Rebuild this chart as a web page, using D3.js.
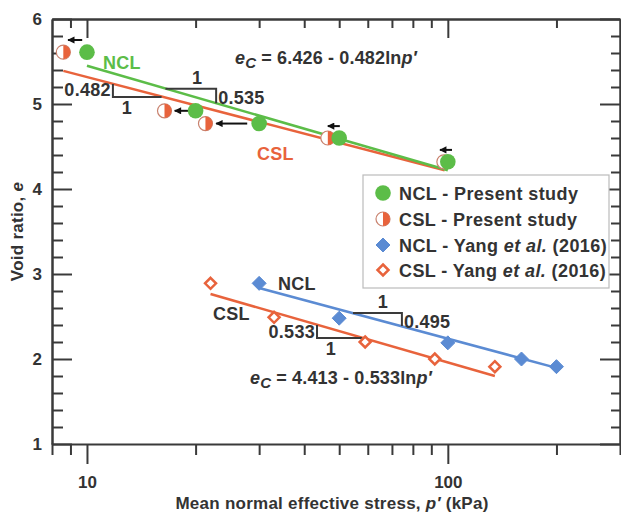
<!DOCTYPE html>
<html>
<head>
<meta charset="utf-8">
<script src="https://cdn.jsdelivr.net/npm/d3@7"></script>
<style>
  body { margin: 0; background: #fff; }
  text { font-family: "Liberation Sans", Arial, Helvetica, sans-serif; font-weight: bold; fill: #333; }
</style>
</head>
<body>
<div id="chart"></div>
<script>
// present study
const nclP = [10, 20, 30, 50, 100]
const nclE = [5.61, 4.92, 4.77, 4.60, 4.32]
const cslP = [8.6, 16.4, 21.3, 46.5, 97.5]
const cslE = [5.61, 4.92, 4.77, 4.60, 4.32]
// Yang et al. (2016)
const yNclP = [30, 50, 100, 160, 200]
const yNclE = [2.89, 2.48, 2.19, 2.00, 1.91]
const yCslP = [22, 33, 59, 92, 135]
const yCslE = [2.89, 2.49, 2.20, 2.00, 1.91]
// fitted lines, end points
const nclFitP = [10, 100], nclFitE = [5.45, 4.22]
const cslFitP = [8.6, 98], cslFitE = [5.39, 4.22]
const yNclFitP = [30, 200], yNclFitE = [2.835, 1.896]
const yCslFitP = [22, 135], yCslFitE = [2.765, 1.80]
// shift arrows (from NCL towards CSL)
const arrowFromP = [9.7, 19.05, 27.8, 50.2, 102.7]
const arrowToP = [8.86, 17.5, 22.8, 46.5, 95.1]
const arrowE = [5.753, 4.92, 4.77, 4.74, 4.46]
// slope triangles
const slopes = [
    { p: [11.8, 16.1], e: [5.236, 5.082], corner: "left", a: "0.482", b: "1" },
    { p: [16.5, 22.8], e: [5.18, 5.01], corner: "right", a: "0.535", b: "1" },
    { p: [54.6, 74.6], e: [2.541, 2.388], corner: "right", a: "0.495", b: "1" },
    { p: [43.4, 57.8], e: [2.40, 2.247], corner: "left", a: "0.533", b: "1" }
]
const xMajor = [10, 100]
const xMinor = [9, 20, 30, 40, 50, 60, 70, 80, 90, 200]
const yMajor = [1, 2, 3, 4, 5, 6]
const yMinor = [1.2, 1.4, 1.6, 1.8, 2.2, 2.4, 2.6, 2.8, 3.2, 3.4, 3.6, 3.8, 4.2, 4.4, 4.6, 4.8, 5.2, 5.4, 5.6, 5.8]
const legendLabels = ["NCL - Present study", "CSL - Present study", "NCL - Yang ", "CSL - Yang "]

const green = "#5cbd48", orange = "#e8633c", blue = "#5b8bd3", axisCol = "#3a3a3a"

const width = 621, height = 516
const svg = d3.select("#chart").append("svg")
    .attr("width", width)
    .attr("height", height)

const x = d3.scaleLog().domain([8, 300]).range([52, 620])
const y = d3.scaleLinear().domain([1, 6]).range([444, 19])

function axisStyle(g) {
    g.selectAll("path, line").attr("stroke", axisCol).attr("stroke-width", 2)
    g.selectAll("text").attr("fill", "#333").style("font-size", "17px").style("font-family", "'Liberation Sans', Arial, sans-serif").style("font-weight", "bold")
}

// bottom
svg.append("g").attr("transform", `translate(0,${y(1)})`)
    .call(d3.axisBottom(x).tickValues(xMinor).tickFormat("").tickSize(11).tickSizeOuter(11))
    .call(axisStyle)
svg.append("g").attr("transform", `translate(0,${y(1)})`)
    .call(d3.axisBottom(x).tickValues(xMajor).tickFormat(d3.format("d")).tickSize(20).tickSizeOuter(0).tickPadding(12))
    .call(axisStyle)
    .call(g => g.select(".domain").remove())
// top
svg.append("g").attr("transform", `translate(0,${y(6)})`)
    .call(d3.axisTop(x).tickValues(xMinor).tickFormat("").tickSize(-9).tickSizeOuter(0))
    .call(axisStyle)
svg.append("g").attr("transform", `translate(0,${y(6)})`)
    .call(d3.axisTop(x).tickValues(xMajor).tickFormat("").tickSize(-19).tickSizeOuter(0))
    .call(axisStyle)
// left
svg.append("g").attr("transform", `translate(${x(8)},0)`)
    .call(d3.axisLeft(y).tickValues(yMinor).tickFormat("").tickSize(-11).tickSizeOuter(0))
    .call(axisStyle)
svg.append("g").attr("transform", `translate(${x(8)},0)`)
    .call(d3.axisLeft(y).tickValues(yMajor).tickFormat(d3.format("d")).tickSize(-20).tickSizeOuter(0).tickPadding(10))
    .call(axisStyle)
// right
svg.append("g").attr("transform", `translate(${x(300)},0)`)
    .call(d3.axisRight(y).tickValues(yMinor).tickFormat("").tickSize(-9).tickSizeOuter(0))
    .call(axisStyle)
svg.append("g").attr("transform", `translate(${x(300)},0)`)
    .call(d3.axisRight(y).tickValues(yMajor).tickFormat("").tickSize(-20).tickSizeOuter(0))
    .call(axisStyle)

// axis titles
var xt = svg.append("text")
    .attr("x", 332).attr("y", 509)
    .attr("text-anchor", "middle")
    .style("font-size", "17px").style("letter-spacing", "0.25px")
xt.append("tspan").text("Mean normal effective stress, ")
xt.append("tspan").style("font-style", "italic").text("p′")
xt.append("tspan").text(" (kPa)")

var yt = svg.append("text")
    .attr("transform", `translate(23,${(y(1) + y(6)) / 2}) rotate(-90)`)
    .attr("text-anchor", "middle")
    .style("font-size", "17px").style("letter-spacing", "0.25px")
yt.append("tspan").text("Void ratio, ")
yt.append("tspan").style("font-style", "italic").text("e")

// fitted lines
const line = d3.line().x(d => x(d[0])).y(d => y(d[1]))
function fit(ps, es, col) {
    svg.append("path")
        .datum(ps.map((p, i) => [p, es[i]]))
        .attr("fill", "none")
        .attr("stroke", col)
        .attr("stroke-width", 2.5)
        .attr("d", line)
}
fit(cslFitP, cslFitE, orange)
fit(nclFitP, nclFitE, green)
fit(yCslFitP, yCslFitE, orange)
fit(yNclFitP, yNclFitE, blue)

// slope triangles
function label(xp, yp, txt, anchor) {
    return svg.append("text").attr("x", xp).attr("y", yp)
        .attr("text-anchor", anchor || "start")
        .style("font-size", "18px").style("letter-spacing", "0.3px")
        .text(txt)
}
slopes.forEach(s => {
    var pts
    if (s.corner == "left")
        pts = [[s.p[0], s.e[0]], [s.p[0], s.e[1]], [s.p[1], s.e[1]]]
    else
        pts = [[s.p[0], s.e[0]], [s.p[1], s.e[0]], [s.p[1], s.e[1]]]
    svg.append("path")
        .datum(pts)
        .attr("fill", "none")
        .attr("stroke", axisCol)
        .attr("stroke-width", 2)
        .attr("d", line)
    var x0 = x(s.p[0]), x1 = x(s.p[1]), y0 = y(s.e[0]), y1 = y(s.e[1])
    if (s.corner == "left") {
        label(x0 - 2, (y0 + y1) / 2 + 6, s.a, "end")
        label(x0 + 14, y1 + 17, s.b, "middle")
    } else {
        label(x1 + 2, (y0 + y1) / 2 + 8, s.a)
        label(x1 - 19, y0 - 5, s.b, "middle")
    }
})

// arrows
svg.append("defs").append("marker")
    .attr("id", "head")
    .attr("viewBox", "0 0 10 10")
    .attr("refX", 9).attr("refY", 5)
    .attr("markerWidth", 4).attr("markerHeight", 3.6)
    .attr("orient", "auto")
    .append("path").attr("d", "M0,0L10,5L0,10Z").attr("fill", "#111")
arrowFromP.forEach((p, i) => {
    svg.append("line")
        .attr("x1", x(p)).attr("x2", x(arrowToP[i]))
        .attr("y1", y(arrowE[i])).attr("y2", y(arrowE[i]))
        .attr("stroke", "#111").attr("stroke-width", 2)
        .attr("marker-end", "url(#head)")
})

// markers
function halfCircle(g, cx, cy, r) {
    g.append("circle").attr("cx", cx).attr("cy", cy).attr("r", r)
        .attr("fill", "#fff").attr("stroke", "#c9826e").attr("stroke-width", 1.2)
    g.append("path")
        .attr("d", `M${cx},${cy - r}A${r},${r} 0 0 1 ${cx},${cy + r}Z`)
        .attr("fill", orange)
}
function diamond(g, cx, cy, s, filled) {
    g.append("path")
        .attr("d", `M${cx},${cy - s}L${cx + s},${cy}L${cx},${cy + s}L${cx - s},${cy}Z`)
        .attr("fill", filled ? blue : "#fff")
        .attr("stroke", filled ? blue : orange)
        .attr("stroke-width", filled ? 1 : 2.5)
}

var marks = svg.append("g")
cslP.forEach((p, i) => halfCircle(marks, x(p), y(cslE[i]), 7))
nclP.forEach((p, i) => marks.append("circle").attr("cx", x(p)).attr("cy", y(nclE[i])).attr("r", 7.8).attr("fill", green))
yCslP.forEach((p, i) => diamond(marks, x(p), y(yCslE[i]), 5.5, false))
yNclP.forEach((p, i) => diamond(marks, x(p), y(yNclE[i]), 7, true))

// curve labels
label(103, 69, "NCL").style("fill", green)
label(257, 160, "CSL").style("fill", orange)
label(278, 290, "NCL")
label(213, 320, "CSL")

// equations
function equation(xp, yp, txt) {
    var t = svg.append("text").attr("x", xp).attr("y", yp).style("font-size", "18px").style("letter-spacing", "0.15px")
    t.append("tspan").style("font-style", "italic").text("e")
    t.append("tspan").style("font-style", "italic").style("font-size", "15px").attr("dy", 4).text("C")
    t.append("tspan").attr("dy", -4).text(" = " + txt + "ln")
    t.append("tspan").style("font-style", "italic").text("p′")
}
equation(235, 64, "6.426 - 0.482")
equation(250, 384, "4.413 - 0.533")

// legend
var lg = svg.append("g")
lg.append("rect").attr("x", 363).attr("y", 175).attr("width", 246).attr("height", 113)
    .attr("fill", "#fff").attr("stroke", "#bbb").attr("stroke-width", 1.2)
const rowY = [193, 219, 245, 270]
lg.append("circle").attr("cx", 383).attr("cy", rowY[0]).attr("r", 7.8).attr("fill", green)
halfCircle(lg, 383, rowY[1], 7)
diamond(lg, 383, rowY[2], 7, true)
diamond(lg, 383, rowY[3], 5.5, false)
legendLabels.forEach((l, i) => {
    var t = lg.append("text").attr("x", 399).attr("y", rowY[i] + 6.5).style("font-size", "18px").style("letter-spacing", "0.4px")
    t.append("tspan").text(l)
    if (i >= 2) {
        t.append("tspan").style("font-style", "italic").text("et al.")
        t.append("tspan").text(" (2016)")
    }
})
</script>
</body>
</html>
